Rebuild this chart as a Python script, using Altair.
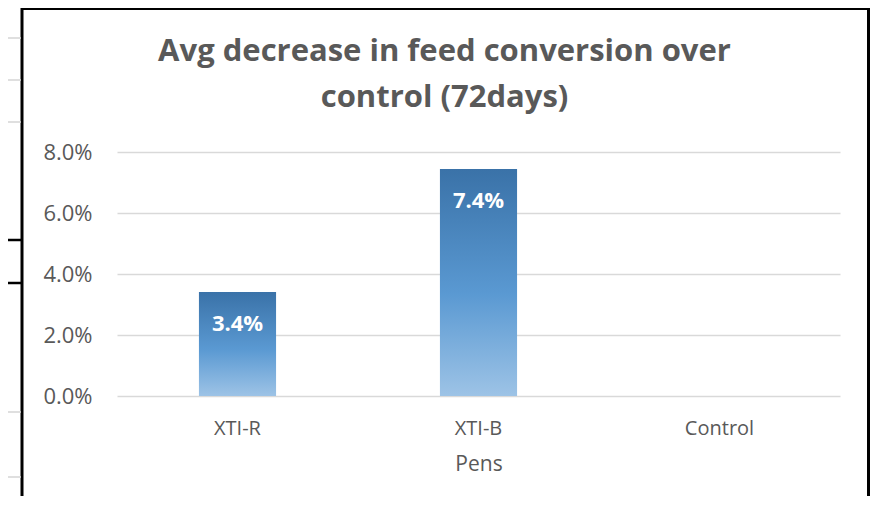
import altair as alt
import pandas as pd

# ---- data ----
pens = ["XTI-R", "XTI-B", "Control"]
decrease = [0.0341, 0.0744, None]
title_lines = ["Avg decrease in feed conversion over", "control (72days)"]
y_ticks = [0.0, 0.02, 0.04, 0.06, 0.08]

df = pd.DataFrame({"Pens": pens, "Decrease": decrease})

GRAY = "#595959"
FONT = "Open Sans"

gradient = alt.LinearGradient(
    gradient="linear",
    stops=[
        alt.GradientStop(color="#3a72a8", offset=0),
        alt.GradientStop(color="#5a99d2", offset=0.55),
        alt.GradientStop(color="#9dc3e6", offset=1),
    ],
    x1=0, x2=0, y1=0, y2=1,
)

x_enc = alt.X(
    "Pens:N",
    sort=pens,
    scale=alt.Scale(domain=pens, paddingInner=0, paddingOuter=0),
    axis=alt.Axis(
        title="Pens", labelAngle=0, domain=False, ticks=False,
        labelFont=FONT, labelFontSize=20, labelColor=GRAY, labelPadding=22,
        titleFont=FONT, titleFontSize=21, titleColor=GRAY, titleFontWeight="normal",
        titlePadding=15,
    ),
)
y_scale = alt.Scale(domain=[0, 0.08], nice=False)

base = alt.Chart(df).transform_filter("datum.Decrease != null")

bars = base.mark_bar(color=gradient, width=alt.RelativeBandSize(0.32)).encode(
    x=x_enc,
    y=alt.Y(
        "Decrease:Q",
        scale=y_scale,
        axis=alt.Axis(
            title=None, values=y_ticks, format=".1%", domain=False, ticks=False,
            labelFont=FONT, labelFontSize=22, labelColor=GRAY, labelPadding=25,
            grid=True, gridColor="#d9d9d9", gridWidth=1.5,
        ),
    ),
)

labels = base.mark_text(
    font=FONT, fontSize=22, fontWeight="bold", color="white",
    baseline="alphabetic", dy=39,
).encode(
    x=alt.X("Pens:N", sort=pens),
    y=alt.Y("Decrease:Q", scale=y_scale),
    text=alt.Text("Decrease:Q", format=".1%"),
)

one = alt.InlineData(values=[{"k": 1}])

def hline(x1, x2, y, color, w):
    return alt.Chart(one).mark_rule(color=color, strokeWidth=w).encode(
        x=alt.value(x1), x2=alt.value(x2), y=alt.value(y)
    )

border = alt.Chart(one).mark_rect(
    fill="transparent", stroke="black", strokeWidth=3
).encode(
    x=alt.value(-95), x2=alt.value(751.5), y=alt.value(-143.5), y2=alt.value(420)
)

decor = [
    hline(-120, -96, -114, "#d4d4d4", 1.5),
    hline(-120, -96, -72, "#d4d4d4", 1.5),
    hline(-120, -96, -30, "#d4d4d4", 1.5),
    hline(-120, -96, 88, "black", 2.5),
    hline(-120, -96, 131, "black", 2.5),
    hline(-120, -96, 260, "#d4d4d4", 1.5),
    hline(-120, -96, 325, "#d4d4d4", 1.5),
]

chart = alt.layer(bars, labels, border, *decor).properties(
    width=723,
    height=244,
    title=alt.TitleParams(
        text=title_lines,
        font=FONT, fontSize=31, fontWeight="bold", color=GRAY,
        anchor="middle", frame="group", dx=-34, lineHeight=46,
        baseline="alphabetic", offset=0, dy=131,
    ),
    autosize=alt.AutoSizeParams(type="none"),
    padding={"left": 109, "top": 144, "right": 31, "bottom": 100},
).configure_view(stroke=None)

chart.save("out.html", embed_options={"renderer": "svg", "actions": False})
